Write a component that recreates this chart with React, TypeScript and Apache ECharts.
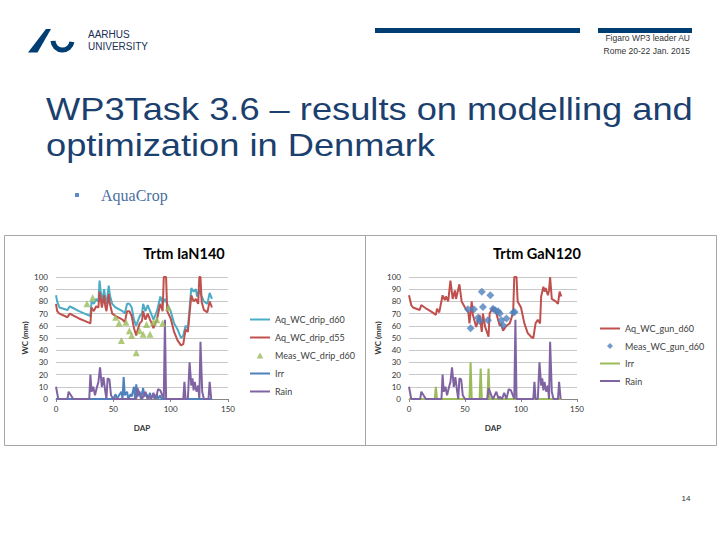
import React, { useEffect, useRef } from "react";
import * as echarts from "echarts";

// ---------- data ----------
const xTicks = [0, 50, 100, 150];

const aqDripD60: [number, number][] = [
  [0, 85], [1, 80], [3, 75], [10, 73], [12, 76], [14, 75], [20, 72], [25, 70], [30, 68], [31, 80], [33, 78], [35, 82], [37, 80], [38, 97], [39, 88], [40, 80], [42, 90], [43, 82], [44, 78], [46, 93], [47, 85], [49, 78], [52, 75], [56, 73], [58, 72], [60, 70], [62, 78], [64, 78], [66, 75], [68, 65], [70, 60], [71, 63], [73, 68], [75, 70], [76, 78], [78, 72], [80, 77], [82, 72], [83, 70], [85, 65], [88, 72], [90, 80], [91, 84], [93, 78], [95, 82], [97, 78], [100, 72], [103, 62], [106, 57], [109, 50], [111, 52], [113, 60], [115, 58], [117, 80], [118, 91], [120, 88], [122, 90], [123, 84], [125, 90], [126, 86], [127, 84], [129, 80], [132, 78], [134, 87], [136, 82],
];
const aqDripD55: [number, number][] = [
  [0, 78], [1, 72], [3, 70], [10, 67], [12, 70], [14, 69], [20, 66], [25, 64], [30, 62], [31, 75], [33, 72], [35, 76], [37, 75], [38, 88], [39, 82], [40, 75], [42, 85], [43, 76], [44, 72], [46, 86], [47, 78], [49, 70], [52, 68], [56, 66], [58, 65], [60, 63], [62, 72], [64, 72], [66, 68], [68, 58], [70, 52], [71, 56], [73, 62], [75, 64], [76, 72], [78, 65], [80, 70], [82, 65], [83, 63], [85, 58], [88, 65], [90, 74], [91, 78], [93, 72], [94, 100], [96, 100], [97, 72], [100, 66], [103, 55], [106, 48], [109, 44], [111, 45], [113, 57], [115, 55], [117, 75], [118, 85], [120, 80], [122, 82], [124, 78], [125, 100], [126, 100], [127, 80], [129, 73], [132, 71], [134, 80], [136, 75],
];
const measDripD60: [number, number][] = [
  [27, 78], [32, 83], [52, 67], [55, 62], [57, 48], [61, 63], [64, 56], [66, 52], [70, 38], [73, 56], [76, 53], [79, 61], [82, 53], [85, 63], [88, 65], [93, 62], [98, 75],
];
const irrDrip: [number, number][] = [
  [0, 0], [50, 0], [52, 4], [53, 0], [55, 3], [57, 6], [58, 0], [59, 18], [60, 3], [62, 6], [63, 0], [65, 4], [66, 2], [68, 10], [69, 0], [70, 12], [71, 2], [73, 6], [74, 0], [76, 9], [77, 2], [79, 4], [80, 0], [82, 5], [83, 1], [85, 3], [86, 0], [88, 4], [89, 0], [91, 3], [92, 0], [136, 0],
];
const rain: [number, number][] = [
  [0, 10], [2, 0], [10, 0], [11, 6], [13, 3], [15, 0], [29, 0], [30, 20], [31, 6], [32.5, 10], [34, 3], [35.5, 9], [37, 14], [38.4, 26], [40, 10], [41.4, 18], [43, 6], [44, 0], [45, 17], [46.6, 16], [48, 3], [50, 0], [70, 0], [71, 9], [73.5, 3], [75, 0], [78, 6], [80, 0], [81, 2], [83, 0], [85, 5], [87, 0], [89, 8], [91, 7], [94, 0], [95, 65], [96, 0], [111, 0], [112, 14], [113, 0], [115, 0], [116.5, 30], [118, 11], [119, 17], [120, 7], [121, 14], [122.5, 6], [124, 11], [125, 0], [126, 47], [127.5, 6], [129, 0], [133, 0], [134, 14], [135.4, 0],
];

const aqGunD60: [number, number][] = [
  [0, 85], [2, 77], [3.6, 75], [9.5, 73], [11, 77], [15.5, 74], [21, 71], [24, 69], [25, 74], [27, 71], [30, 85], [32, 81], [33, 84], [35, 80], [37, 97], [39, 82], [41, 89], [42, 82], [45, 94], [47, 80], [50, 75], [53, 71], [54, 62], [56, 80], [57, 69], [60, 59], [63, 69], [65, 55], [66, 70], [68, 59], [71, 51], [72, 70], [75, 75], [78, 70], [81, 60], [82, 62], [84, 56], [87, 60], [90, 62], [93, 71], [94, 100], [96, 100], [97, 80], [100, 75], [103, 62], [106, 54], [109, 51], [111, 50], [113, 62], [115, 65], [117, 62], [118, 84], [120, 92], [121, 88], [122, 91], [124, 85], [125, 89], [126, 100], [127.5, 82], [131, 80], [133, 78], [134.5, 88], [136, 84],
];
const measGunD60: [number, number][] = [
  [52.7, 73.6], [55, 58], [58, 73.6], [61.6, 66.5], [63, 64], [65, 88], [66, 75.5], [70.5, 64.6], [72.6, 85], [75, 74], [77, 72.8], [79.5, 72], [81, 70], [82.4, 64.6], [84, 60.5], [87, 66], [93, 71], [94.3, 71.4],
];
const irrGun: [number, number][] = [
  [0, 0], [23, 0], [24, 10], [25, 0], [54, 0], [55, 30], [56, 0], [63, 0], [64, 25], [65, 0], [70, 0], [71, 25], [72, 0], [136, 0],
];

const C = {
  cyan: "#4BACC6",
  red: "#C0504D",
  green: "#9BBB59",
  blue: "#4F81BD",
  purple: "#8064A2",
  au: "#003D73",
  title: "#1B3F6E",
};

const chartFont = "Lato";
const LINE_ICON = "path://M0,0H20V2H0Z";
const TRI_ICON = "path://M4,0L8,7L0,7Z";
const DIA_ICON = "path://M4,0L8,4L4,8L0,4Z";

function axisPair(idx: number) {
  const x = {
    type: "value",
    gridIndex: idx,
    min: xTicks[0],
    max: xTicks[xTicks.length - 1],
    interval: 50,
    name: "DAP",
    nameLocation: "middle",
    nameGap: 25,
    nameTextStyle: { fontFamily: chartFont, fontSize: 8, fontWeight: "bold", color: "#333" },
    axisLine: { show: true, lineStyle: { color: "#868686", width: 1 } },
    axisTick: { show: true, length: 3, lineStyle: { color: "#868686" } },
    axisLabel: { fontFamily: chartFont, fontSize: 8, color: "#333", margin: 6 },
    splitLine: { show: false },
  };
  const y = {
    type: "value",
    gridIndex: idx,
    min: 0,
    max: 100,
    interval: 10,
    name: "WC (mm)",
    nameLocation: "middle",
    nameRotate: 90,
    nameGap: 27,
    nameTextStyle: { fontFamily: chartFont, fontSize: 8, fontWeight: "bold", color: "#333" },
    axisLine: { show: false },
    axisTick: { show: false },
    axisLabel: { fontFamily: chartFont, fontSize: 8, color: "#333", margin: 8 },
    splitLine: { show: true, lineStyle: { color: "#C8C8C8", width: 1 } },
  };
  return { x, y };
}

function lineSeries(name: string, data: [number, number][], color: string, idx: number, width = 2, z = 2) {
  return {
    type: "line",
    name,
    data,
    xAxisIndex: idx,
    yAxisIndex: idx,
    symbol: "none",
    lineStyle: { color, width },
    itemStyle: { color },
    z,
  };
}

export default function App() {
  const ref = useRef<HTMLDivElement>(null);
  useEffect(() => {
    if (!ref.current) return;
    const chart = echarts.init(ref.current, null, { renderer: "svg" });
    const a0 = axisPair(0);
    const a1 = axisPair(1);
    const legendText = { fontFamily: chartFont, fontSize: 9, color: "#404040" };
    chart.setOption({
      animation: false,
      backgroundColor: "#ffffff",
      grid: [
        { left: 56, right: 492, top: 277, bottom: 141 },
        { left: 409, right: 143, top: 277, bottom: 141 },
      ],
      xAxis: [a0.x, a1.x],
      yAxis: [a0.y, a1.y],
      legend: [
        {
          orient: "vertical",
          left: 250,
          top: 315,
          padding: 0,
          itemWidth: 20,
          itemHeight: 6,
          itemGap: 9,
          textStyle: legendText,
          data: [
            { name: "Aq_WC_drip_d60", icon: LINE_ICON },
            { name: "Aq_WC_drip_d55", icon: LINE_ICON },
            { name: "Meas_WC_drip_d60", icon: TRI_ICON },
            { name: "Irr", icon: LINE_ICON },
            { name: "Rain", icon: LINE_ICON },
          ],
        },
        {
          orient: "vertical",
          left: 600,
          top: 324,
          padding: 0,
          itemWidth: 20,
          itemHeight: 6,
          itemGap: 8.5,
          textStyle: legendText,
          formatter: (n: string) => n.split("#")[0],
          data: [
            { name: "Aq_WC_gun_d60", icon: LINE_ICON },
            { name: "Meas_WC_gun_d60", icon: DIA_ICON },
            { name: "Irr#2", icon: LINE_ICON },
            { name: "Rain#2", icon: LINE_ICON },
          ],
        },
      ],
      series: [
        lineSeries("Aq_WC_drip_d60", aqDripD60, C.cyan, 0, 2, 3),
        lineSeries("Aq_WC_drip_d55", aqDripD55, C.red, 0, 2, 4),
        {
          type: "scatter",
          name: "Meas_WC_drip_d60",
          data: measDripD60,
          xAxisIndex: 0,
          yAxisIndex: 0,
          symbol: "triangle",
          symbolSize: 7,
          itemStyle: { color: C.green },
          z: 5,
        },
        lineSeries("Irr", irrDrip, C.blue, 0, 2, 2),
        lineSeries("Rain", rain, C.purple, 0, 2, 2),
        lineSeries("Aq_WC_gun_d60", aqGunD60, C.red, 1, 2, 3),
        {
          type: "scatter",
          name: "Meas_WC_gun_d60",
          data: measGunD60,
          xAxisIndex: 1,
          yAxisIndex: 1,
          symbol: "diamond",
          symbolSize: 8,
          itemStyle: { color: C.blue },
          z: 5,
        },
        lineSeries("Irr#2", irrGun, C.green, 1, 2, 2),
        lineSeries("Rain#2", rain, C.purple, 1, 2, 2),
      ],
      graphic: [
        // chart frames
        { type: "rect", shape: { x: 4.5, y: 235.5, width: 712, height: 210 }, style: { fill: "none", stroke: "#A6A6A6", lineWidth: 1 }, z: 0 },
        { type: "line", shape: { x1: 365.5, y1: 235.5, x2: 365.5, y2: 445.5 }, style: { stroke: "#A6A6A6", lineWidth: 1 }, z: 0 },
        // chart titles
        { type: "text", x: 184, y: 253, style: { text: "Trtm IaN140", fontFamily: chartFont, fontSize: 14.5, fontWeight: "bold", fill: "#000", align: "center", verticalAlign: "middle" } },
        { type: "text", x: 537, y: 253, style: { text: "Trtm GaN120", fontFamily: chartFont, fontSize: 14.5, fontWeight: "bold", fill: "#000", align: "center", verticalAlign: "middle" } },
        // logo
        { type: "polygon", shape: { points: [[28, 52.5], [37.5, 52.5], [51, 29], [46, 29]] }, style: { fill: C.au } },
        { type: "arc", shape: { cx: 62.5, cy: 40.5, r: 9.5, startAngle: 0.15, endAngle: Math.PI - 0.05 }, style: { stroke: C.au, lineWidth: 5, fill: "none" } },
        { type: "text", x: 88, y: 34, style: { text: "AARHUS", fontFamily: "Liberation Sans", fontSize: 10, fill: "#1a2f52", verticalAlign: "middle" } },
        { type: "text", x: 88, y: 46, style: { text: "UNIVERSITY", fontFamily: "Liberation Sans", fontSize: 10, fill: "#1a2f52", verticalAlign: "middle" } },
        // header bars
        { type: "rect", shape: { x: 375, y: 28, width: 205, height: 5 }, style: { fill: C.au } },
        { type: "rect", shape: { x: 598, y: 28, width: 94, height: 5 }, style: { fill: C.au } },
        { type: "text", x: 690, y: 38, style: { text: "Figaro WP3 leader AU", fontFamily: "Liberation Sans", fontSize: 8.5, fill: "#333", align: "right", verticalAlign: "middle" } },
        { type: "text", x: 690, y: 51, style: { text: "Rome 20-22 Jan. 2015", fontFamily: "Liberation Sans", fontSize: 8.5, fill: "#333", align: "right", verticalAlign: "middle" } },
        // slide title
        { type: "text", x: 46, y: 109, scaleX: 1.133, style: { text: "WP3Task 3.6 – results on modelling and", fontFamily: "Liberation Sans", fontSize: 32, fill: C.title, verticalAlign: "middle" } },
        { type: "text", x: 46, y: 145, scaleX: 1.133, style: { text: "optimization in Denmark", fontFamily: "Liberation Sans", fontSize: 32, fill: C.title, verticalAlign: "middle" } },
        // bullet
        { type: "rect", shape: { x: 75, y: 193, width: 4, height: 4 }, style: { fill: "#5B8BC9" } },
        { type: "text", x: 101, y: 195, style: { text: "AquaCrop", fontFamily: "Liberation Serif", fontSize: 16, fill: "#4A6F9E", verticalAlign: "middle" } },
        // page number
        { type: "text", x: 686, y: 498, style: { text: "14", fontFamily: "Liberation Sans", fontSize: 8, fill: "#333", align: "center", verticalAlign: "middle" } },
      ],
    });
    return () => chart.dispose();
  }, []);
  return (
    <div
      ref={ref}
      style={{ position: "fixed", left: 0, top: 0, width: 720, height: 540, background: "#fff" }}
    />
  );
}
